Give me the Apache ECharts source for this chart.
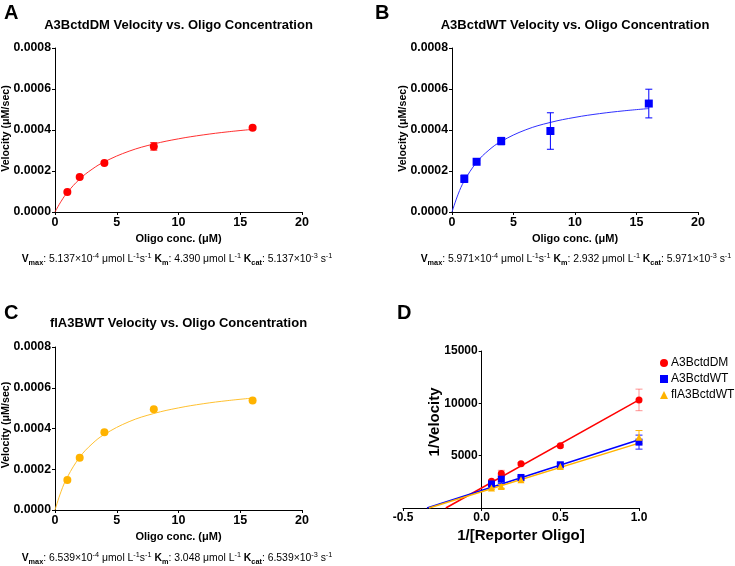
<!DOCTYPE html>
<html><head><meta charset="utf-8">
<script src="https://cdn.jsdelivr.net/npm/echarts@6/dist/echarts.min.js"></script>
<style>html,body{margin:0;padding:0;background:#fff}#c{width:735px;height:566px}</style>
</head><body><div id="c"></div>
<script>
// ---------- data ----------
const concX = [1, 2, 4, 8, 16];
const aVel = [0.0000976, 0.000171, 0.000239, 0.00032, 0.000411];
const aErr = [0.000004, 0.000004, 0.000005, 0.000018, 0.000006];
const bVel = [0.000162, 0.000245, 0.000346, 0.000395, 0.000529];
const bErr = [0.000018, 0.000008, 0.000018, 0.000089, 0.00007];
const cVel = [0.000147, 0.000256, 0.000381, 0.000495, 0.000537];

const fitX = [0, 0.5, 1, 2, 3, 4, 6, 8, 10, 12, 14, 16];
const aFit = [0, 0.0000525, 0.0000953, 0.0001608, 0.0002085, 0.0002449, 0.0002967, 0.0003317, 0.000357, 0.0003761, 0.0003911, 0.0004031];
const bFit = [0, 0.000087, 0.0001519, 0.0002421, 0.000302, 0.0003445, 0.0004011, 0.000437, 0.0004617, 0.0004799, 0.0004937, 0.0005046];
const cFit = [0, 0.0000922, 0.0001615, 0.0002591, 0.0003244, 0.0003711, 0.0004336, 0.0004735, 0.0005011, 0.0005215, 0.000537, 0.0005493];

const invX = [0.0625, 0.125, 0.25, 0.5, 1];
const dmInv = [2550, 3300, 4224, 5941, 10327];
const dmInvErr = [120, 300, 120, 150, 1030];
const wtInv = [2300, 2750, 2918, 4129, 6294];
const wtInvErr = [150, 400, 120, 150, 670];
const flInv = [1907, 2060, 2699, 3967, 6770];
const flInvErr = [120, 180, 120, 120, 630];

const dmLineX = [-0.228, 1], dmLineY = [0, 10327];
const wtLineX = [-0.347, 1], wtLineY = [0, 6513];
const flLineX = [-0.335, 1], flLineY = [0, 6198];

const titles = ['A3BctdDM Velocity vs. Oligo Concentration', 'A3BctdWT Velocity vs. Oligo Concentration', 'flA3BWT Velocity vs. Oligo Concentration'];
const letters = ['A', 'B', 'C', 'D'];
const yNameABC = 'Velocity (μM/sec)';
const xNameABC = 'Oligo conc. (μM)';
const params = [
  ['5.137', '-4', '4.390', '5.137', '-3'],
  ['5.971', '-4', '2.932', '5.971', '-3'],
  ['6.539', '-4', '3.048', '6.539', '-3']
];
const legendNames = ['A3BctdDM', 'A3BctdWT', 'flA3BctdWT'];

// ---------- styles ----------
const RED = '#FF0000', BLUE = '#0000FF', YEL = '#FFB300';
const FF = 'Liberation Sans, Arial, sans-serif';
const pair = (xs, ys) => xs.map((x, i) => [x, ys[i]]);
const trip = (xs, ys, es) => xs.map((x, i) => [x, ys[i], es[i]]);

function errSeries(xi, yi, data, color) {
  return {
    type: 'custom', xAxisIndex: xi, yAxisIndex: yi, data: data, z: 3, silent: true,
    renderItem: function (p, api) {
      const x = api.value(0), y = api.value(1), e = api.value(2);
      const t = api.coord([x, y + e]), b = api.coord([x, y - e]);
      const w = 3.5;
      const st = { stroke: color, lineWidth: 1 };
      return { type: 'group', children: [
        { type: 'line', shape: { x1: t[0], y1: t[1], x2: b[0], y2: b[1] }, style: st },
        { type: 'line', shape: { x1: t[0] - w, y1: t[1], x2: t[0] + w, y2: t[1] }, style: st },
        { type: 'line', shape: { x1: b[0] - w, y1: b[1], x2: b[0] + w, y2: b[1] }, style: st }
      ] };
    }
  };
}

const axisLineStyle = { show: true, onZero: false, lineStyle: { color: '#000', width: 1 } };
const tickStyle = { show: true, inside: false, length: 3, lineStyle: { color: '#000' } };
const lblStyle = (fs) => ({ show: true, inside: false, color: '#000', fontWeight: 'bold', fontSize: fs, fontFamily: FF, margin: 4 });

const gridBase = { containLabel: false, outerBoundsMode: 'none' };
const grids = [
  Object.assign({ left: 55, top: 48, width: 247, height: 164 }, gridBase),
  Object.assign({ left: 452, top: 48, width: 246, height: 164 }, gridBase),
  Object.assign({ left: 55, top: 347, width: 247, height: 163 }, gridBase),
  Object.assign({ left: 403, top: 351, width: 236, height: 157 }, gridBase)
];

const xAxes = [], yAxes = [];
for (let i = 0; i < 3; i++) {
  xAxes.push({
    type: 'value', gridIndex: i, position: 'bottom', min: 0, max: 20, interval: 5,
    axisLine: axisLineStyle, axisTick: tickStyle, splitLine: { show: false },
    axisLabel: lblStyle(12.5),
    name: xNameABC, nameLocation: 'middle', nameGap: 21,
    nameTextStyle: { color: '#000', fontWeight: 'bold', fontSize: 11, fontFamily: FF }
  });
  yAxes.push({
    type: 'value', gridIndex: i, position: 'left', min: 0, max: 0.0008, interval: 0.0002,
    axisLine: axisLineStyle, axisTick: tickStyle, splitLine: { show: false },
    axisLabel: Object.assign(lblStyle(12.3), { formatter: v => v.toFixed(4) })
  });
}
xAxes.push({
  type: 'value', gridIndex: 3, position: 'bottom', min: -0.5, max: 1.0, interval: 0.5,
  axisLine: axisLineStyle, axisTick: tickStyle, splitLine: { show: false },
  axisLabel: Object.assign(lblStyle(12), { formatter: v => v.toFixed(1) }),
  name: '1/[Reporter Oligo]', nameLocation: 'middle', nameGap: 20,
  nameTextStyle: { color: '#000', fontWeight: 'bold', fontSize: 15, fontFamily: FF }
});
yAxes.push({
  type: 'value', gridIndex: 3, position: 'left', offset: -236 / 3, min: 0, max: 15000, interval: 5000,
  axisLine: axisLineStyle, axisTick: tickStyle, splitLine: { show: false },
  axisLabel: Object.assign(lblStyle(12), { formatter: v => v === 0 ? '' : String(v) })
});

const series = [];
const panelData = [[aVel, aErr, aFit, RED, 'circle', '#FF3030'], [bVel, bErr, bFit, BLUE, 'rect', '#3030FF'], [cVel, null, cFit, YEL, 'circle', '#FFC030']];
panelData.forEach((pd, i) => {
  series.push({ type: 'line', xAxisIndex: i, yAxisIndex: i, data: pair(fitX, pd[2]), smooth: 0.4, showSymbol: false, symbol: 'none',
    lineStyle: { color: pd[5], width: 1 }, z: 2, silent: true });
  if (pd[1]) series.push(errSeries(i, i, trip(concX, pd[0], pd[1]), pd[3]));
  series.push({ type: 'scatter', xAxisIndex: i, yAxisIndex: i, data: pair(concX, pd[0]), symbol: pd[4], symbolSize: 8,
    itemStyle: { color: pd[3], opacity: 1 }, z: 4 });
});
// panel D
const dSets = [[dmLineX, dmLineY, dmInv, dmInvErr, RED, 'circle', legendNames[0], 'rgba(255,60,60,0.55)'],
               [wtLineX, wtLineY, wtInv, wtInvErr, BLUE, 'rect', legendNames[1], '#2020FF'],
               [flLineX, flLineY, flInv, flInvErr, YEL, 'triangle', legendNames[2], '#FFB300']];
dSets.forEach(d => {
  series.push({ type: 'line', xAxisIndex: 3, yAxisIndex: 3, data: pair(d[0], d[1]), showSymbol: false, symbol: 'none',
    lineStyle: { color: d[4], width: 1.5 }, z: 2, silent: true });
});
dSets.forEach(d => {
  series.push(errSeries(3, 3, trip(invX, d[2], d[3]), d[7]));
});
dSets.forEach(d => {
  series.push({ name: d[6], type: 'scatter', xAxisIndex: 3, yAxisIndex: 3, data: pair(invX, d[2]), symbol: d[5], symbolSize: 7,
    itemStyle: { color: d[4], opacity: 1 }, z: 4 });
});

// ---------- texts ----------
const graphic = [];
const letterPos = [[4, 13], [375, 13], [4, 313], [397, 313]];
letters.forEach((l, i) => graphic.push({ type: 'text', x: letterPos[i][0], y: letterPos[i][1],
  style: { text: l, fill: '#000', font: 'bold 20px ' + FF, verticalAlign: 'middle', align: 'left' } }));
const titlePos = [[178.5, 25], [575, 25], [178.5, 323]];
titles.forEach((t, i) => graphic.push({ type: 'text', x: titlePos[i][0], y: titlePos[i][1],
  style: { text: t, fill: '#000', font: 'bold 13px ' + FF, align: 'center', verticalAlign: 'middle' } }));
const yNamePos = [[6.5, 128.5], [403, 128.5], [6.5, 425]];
yNamePos.forEach(p => graphic.push({ type: 'text', x: p[0], y: p[1], rotation: Math.PI / 2,
  style: { text: yNameABC, fill: '#000', font: 'bold 10.7px ' + FF, align: 'center', verticalAlign: 'middle' } }));
graphic.push({ type: 'text', x: 435, y: 422, rotation: Math.PI / 2,
  style: { text: '1/Velocity', fill: '#000', font: 'bold 15px ' + FF, align: 'center', verticalAlign: 'middle' } });

const rich = {
  n: { fontSize: 10.4, fontFamily: FF, lineHeight: 14, color: '#000' },
  b: { fontSize: 10.4, fontFamily: FF, fontWeight: 'bold', lineHeight: 14, color: '#000' },
  sub: { fontSize: 7.3, fontFamily: FF, fontWeight: 'bold', lineHeight: 8, verticalAlign: 'bottom', color: '#000' },
  sup: { fontSize: 7.3, fontFamily: FF, lineHeight: 8, verticalAlign: 'top', color: '#000' }
};
const fPos = [[177, 259], [576, 259], [177, 558]];
params.forEach((p, i) => {
  const t = '{b|V}{sub|max}{n|: ' + p[0] + '×10}{sup|' + p[1] + '}{n| μmol L}{sup|-1}{n|s}{sup|-1}{n| }' +
            '{b|K}{sub|m}{n|: ' + p[2] + ' μmol L}{sup|-1}{n| }' +
            '{b|K}{sub|cat}{n|: ' + p[3] + '×10}{sup|' + p[4] + '}{n| s}{sup|-1}';
  graphic.push({ type: 'text', x: fPos[i][0], y: fPos[i][1],
    style: { text: t, rich: rich, align: 'center', verticalAlign: 'middle', fill: '#000' } });
});

const chart = echarts.init(document.getElementById('c'), null, { renderer: 'canvas' });
chart.setOption({
  animation: false,
  backgroundColor: '#fff',
  grid: grids,
  xAxis: xAxes,
  yAxis: yAxes,
  legend: {
    data: legendNames.map((n, i) => ({ name: n, icon: ['circle', 'rect', 'triangle'][i] })),
    orient: 'vertical', left: 655, top: 352, itemWidth: 8, itemHeight: 8, itemGap: 4,
    textStyle: { color: '#000', fontSize: 12, fontFamily: FF, padding: [0, 0, 0, -2] },
    selectedMode: false
  },
  series: series,
  graphic: graphic
});
</script></body></html>
